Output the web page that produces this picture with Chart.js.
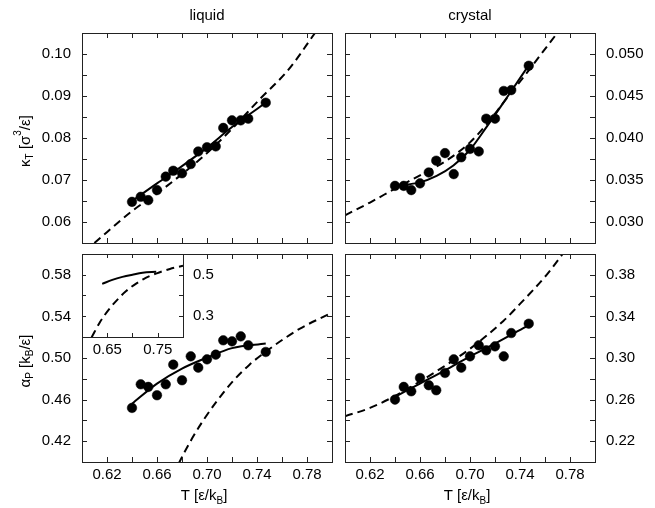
<!DOCTYPE html>
<html><head><meta charset="utf-8">
<script src="https://cdn.jsdelivr.net/npm/chart.js@4.4.1/dist/chart.umd.min.js"></script>
<style>
html,body{margin:0;padding:0;background:#fff;}
#fig{position:relative;width:655px;height:508px;overflow:hidden;background:#fff;}
canvas{position:absolute;}
</style></head><body>
<div id="fig">
<canvas id="tl" width="340" height="265" style="left:0px;top:0px"></canvas>
<canvas id="tr" width="318" height="265" style="left:337px;top:0px"></canvas>
<canvas id="bl" width="340" height="276" style="left:0px;top:232px"></canvas>
<canvas id="br" width="318" height="276" style="left:337px;top:232px"></canvas>
<canvas id="inset" width="160" height="124" style="left:60px;top:234px"></canvas>
</div>
<script>
// ---------- data ----------
const T = [0.640,0.647,0.653,0.660,0.667,0.673,0.680,0.687,0.693,0.700,0.707,0.713,0.720,0.727,0.733,0.747];
const kappaLiquid  = [0.0648,0.0660,0.0652,0.0676,0.0708,0.0722,0.0716,0.0738,0.0768,0.0778,0.0780,0.0824,0.0842,0.0842,0.0846,0.0884];
const kappaCrystal = [0.0343,0.0343,0.0338,0.0346,0.0359,0.0373,0.0382,0.0357,0.0377,0.0387,0.0384,0.0423,0.0423,0.0456,0.0457,0.0486];
const alphaLiquid  = [0.452,0.4747,0.4722,0.4642,0.4747,0.4936,0.4786,0.5016,0.4907,0.4987,0.5032,0.517,0.516,0.5208,0.5122,0.5058];
const alphaCrystal = [0.260,0.2722,0.268,0.2808,0.2738,0.269,0.2856,0.2987,0.2907,0.3016,0.3122,0.3074,0.3112,0.3016,0.324,0.333];

// fitted (solid) curves
const kLiqFitT = [0.640,0.660,0.680,0.700,0.720,0.747];
const kLiqFit  = [0.0650,0.0692,0.0733,0.0777,0.0826,0.0884];
const kCryFitT = [0.6403,0.660,0.6733,0.6867,0.700,0.7133,0.7267,0.7467];
const kCryFit  = [0.03432,0.03472,0.03548,0.03672,0.0386,0.04132,0.0442,0.0486];
const aLiqFitT = [0.640,0.660,0.680,0.700,0.720,0.747];
const aLiqFit  = [0.456,0.4754,0.4898,0.5004,0.5095,0.5140];
const aCryFitT = [0.640,0.660,0.680,0.700,0.720,0.7467];
const aCryFit  = [0.2626,0.2754,0.2882,0.3016,0.3138,0.3314];

// theory (dashed) curves
const kLiqThT = [0.6099,0.640,0.660,0.680,0.700,0.720,0.7424,0.7650,0.7864];
const kLiqTh  = [0.0550,0.0626,0.0668,0.0714,0.0764,0.0822,0.0893,0.0962,0.1050];
const kCryThT = [0.600,0.620,0.6403,0.660,0.680,0.700,0.7133,0.7267,0.7467,0.7699];
const kCryTh  = [0.0308,0.03232,0.0340,0.03556,0.0372,0.03948,0.04164,0.0442,0.0480,0.05252];
const aLiqThT = [0.619,0.636,0.655,0.678,0.688,0.697,0.708,0.721,0.734,0.748,0.761,0.774,0.800];
const aLiqTh  = [0.198,0.2734,0.338,0.400,0.4225,0.440,0.4587,0.478,0.4936,0.5069,0.518,0.528,0.5436];
const aCryThT = [0.600,0.620,0.640,0.660,0.680,0.700,0.7267,0.740,0.7613,0.7741];
const aCryTh  = [0.244,0.252,0.2635,0.2775,0.2925,0.3089,0.3356,0.352,0.380,0.400];

// ticks
const xTicks = [0.60,0.62,0.64,0.66,0.68,0.70,0.72,0.74,0.76,0.78,0.80];
const xTickLabels = ['','0.62','','0.66','','0.70','','0.74','','0.78',''];
const kLiqTicks = [0.055,0.060,0.065,0.070,0.075,0.080,0.085,0.090,0.095,0.100,0.105];
const kLiqTickLabels = ['','0.06','','0.07','','0.08','','0.09','','0.10',''];
const kCryTicks = [0.0275,0.030,0.0325,0.035,0.0375,0.040,0.0425,0.045,0.0475,0.050,0.0525];
const kCryTickLabels = ['','0.030','','0.035','','0.040','','0.045','','0.050',''];
const aLiqTicks = [0.40,0.42,0.44,0.46,0.48,0.50,0.52,0.54,0.56,0.58,0.60];
const aLiqTickLabels = ['','0.42','','0.46','','0.50','','0.54','','0.58',''];
const aCryTicks = [0.20,0.22,0.24,0.26,0.28,0.30,0.32,0.34,0.36,0.38,0.40];
const aCryTickLabels = ['','0.22','','0.26','','0.30','','0.34','','0.38',''];
const insetXTicks = [0.65,0.70,0.75];
const insetXTickLabels = ['0.65','','0.75'];
const insetYTicks = [0.3,0.4,0.5];
const insetYTickLabels = ['0.3','','0.5'];

// ---------- rendering ----------
const FONT = '"Liberation Sans", Arial, Helvetica, sans-serif';
Chart.defaults.font.family = FONT;
Chart.defaults.font.size = 15;
Chart.defaults.color = '#000';

function pts(xs, ys){
  return {data: xs.map((x,i)=>({x:x,y:ys[i]})), showLine:false, pointRadius:4.8,
    pointBackgroundColor:'#000', pointBorderColor:'#000', pointBorderWidth:0.5, order:0};
}
function curve(xs, ys, dashed){
  return {data: xs.map((x,i)=>({x:x,y:ys[i]})), showLine:true, pointRadius:0,
    borderColor:'#000', borderWidth:2, borderDash: dashed ? [8,5] : [],
    cubicInterpolationMode:'monotone', fill:false, order:1};
}

function drawRich(ctx, segs, x, y, rot){
  ctx.save();
  ctx.translate(x, y);
  ctx.rotate(rot);
  ctx.textBaseline = 'alphabetic';
  ctx.textAlign = 'left';
  ctx.fillStyle = '#000';
  const fnt = s => (s.s ? '10px ' : '15px ') + FONT;
  let total = 0;
  const ws = segs.map(s => { ctx.font = fnt(s); const w = ctx.measureText(s.t).width; total += w; return w; });
  let cx = -total/2;
  segs.forEach((s,i) => {
    ctx.font = fnt(s);
    const dy = s.s === 'sub' ? 3.5 : (s.s === 'sup' ? -9 : 0);
    ctx.fillText(s.t, cx, dy);
    cx += ws[i];
  });
  ctx.restore();
}

function decor(cfg){
  return {
    id: 'decor',
    beforeDraw(chart){
      if (cfg.fill){
        const a = chart.chartArea, ctx = chart.ctx;
        ctx.save(); ctx.fillStyle = '#fff';
        ctx.fillRect(a.left, a.top, a.right-a.left, a.bottom-a.top);
        ctx.restore();
      }
    },
    afterDraw(chart){
      const ctx = chart.ctx, a = chart.chartArea, sx = chart.scales.x, sy = chart.scales.y;
      const L = cfg.tickLen || 5;
      ctx.save();
      ctx.strokeStyle = '#222';
      ctx.lineWidth = 1;
      ctx.beginPath();
      sx.ticks.forEach(t => {
        const p = Math.round(sx.getPixelForValue(t.value)) + 0.5;
        ctx.moveTo(p, a.top); ctx.lineTo(p, a.top + L);
        ctx.moveTo(p, a.bottom); ctx.lineTo(p, a.bottom - L);
      });
      sy.ticks.forEach(t => {
        const p = Math.round(sy.getPixelForValue(t.value)) + 0.5;
        ctx.moveTo(a.left, p); ctx.lineTo(a.left + L, p);
        ctx.moveTo(a.right, p); ctx.lineTo(a.right - L, p);
      });
      ctx.stroke();
      ctx.strokeRect(Math.round(a.left)+0.5, Math.round(a.top)+0.5,
                     Math.round(a.right-a.left), Math.round(a.bottom-a.top));
      ctx.restore();
      const cxm = (a.left + a.right)/2, cym = (a.top + a.bottom)/2;
      if (cfg.title){
        ctx.save();
        ctx.font = '15px ' + FONT; ctx.fillStyle = '#000';
        ctx.textAlign = 'center'; ctx.textBaseline = 'alphabetic';
        ctx.fillText(cfg.title, cxm, a.top - 13);
        ctx.restore();
      }
      if (cfg.yTitle) drawRich(ctx, cfg.yTitle, a.left - 52.5, cym + 3, -Math.PI/2);
      if (cfg.xTitle) drawRich(ctx, cfg.xTitle, cxm - 3, a.bottom + 38, 0);
    }
  };
}

function panel(id, o){
  new Chart(document.getElementById(id), {
    type: 'scatter',
    data: {datasets: o.datasets},
    options: {
      responsive: false, animation: false, devicePixelRatio: 1, events: [],
      layout: {padding: o.padding},
      plugins: {legend:{display:false}, tooltip:{enabled:false}, title:{display:false}},
      scales: {
        x: {type:'linear', position:'bottom', min:o.xMin, max:o.xMax,
          afterBuildTicks: s => { s.ticks = o.xTicks.map(v => ({value:v})); },
          afterFit: s => { s.height = o.xHeight; },
          ticks: {display:o.showX, padding:o.xPad, autoSkip:false, maxRotation:0, minRotation:0,
                  color:'#000', callback:(v,i) => o.xLabels[i]},
          grid: {display:false, drawTicks:false}, border:{display:false}},
        y: {type:'linear', position:o.yPos, min:o.yMin, max:o.yMax,
          afterBuildTicks: s => { s.ticks = o.yTicks.map(v => ({value:v})); },
          afterFit: s => { s.width = o.yWidth; },
          ticks: {display:true, padding:o.yPad, autoSkip:false, color:'#000',
                  callback:(v,i) => o.yLabels[i]},
          grid: {display:false, drawTicks:false}, border:{display:false}}
      }
    },
    plugins: [decor(o.decor)]
  });
}

const xTitle = [{t:'T [ε/k'},{t:'B',s:'sub'},{t:']'}];

// plot areas: left column x 82..332, right column x 345..595; top row y 33..243, bottom row y 254..462
panel('tl', {
  datasets: [pts(T, kappaLiquid), curve(kLiqFitT, kLiqFit, false), curve(kLiqThT, kLiqTh, true)],
  padding: {top:33, right:8, left:0, bottom:0},
  xMin:0.60, xMax:0.80, xTicks:xTicks, xLabels:xTickLabels, showX:false, xHeight:22, xPad:4,
  yMin:0.055, yMax:0.105, yTicks:kLiqTicks, yLabels:kLiqTickLabels, yPos:'left', yWidth:82, yPad:11,
  decor: {title:'liquid', yTitle:[{t:'κ'},{t:'T',s:'sub'},{t:' [σ'},{t:'3',s:'sup'},{t:'/ε]'}]}
});
panel('tr', {
  datasets: [pts(T, kappaCrystal), curve(kCryFitT, kCryFit, false), curve(kCryThT, kCryTh, true)],
  padding: {top:33, left:8, right:0, bottom:0},
  xMin:0.60, xMax:0.80, xTicks:xTicks, xLabels:xTickLabels, showX:false, xHeight:22, xPad:4,
  yMin:0.0275, yMax:0.0525, yTicks:kCryTicks, yLabels:kCryTickLabels, yPos:'right', yWidth:60, yPad:11,
  decor: {title:'crystal'}
});
panel('bl', {
  datasets: [pts(T, alphaLiquid), curve(aLiqFitT, aLiqFit, false), curve(aLiqThT, aLiqTh, true)],
  padding: {top:22, right:8, left:0, bottom:0},
  xMin:0.60, xMax:0.80, xTicks:xTicks, xLabels:xTickLabels, showX:true, xHeight:46, xPad:4,
  yMin:0.40, yMax:0.60, yTicks:aLiqTicks, yLabels:aLiqTickLabels, yPos:'left', yWidth:82, yPad:11,
  decor: {yTitle:[{t:'α'},{t:'P',s:'sub'},{t:' [k'},{t:'B',s:'sub'},{t:'/ε]'}], xTitle:xTitle}
});
panel('br', {
  datasets: [pts(T, alphaCrystal), curve(aCryFitT, aCryFit, false), curve(aCryThT, aCryTh, true)],
  padding: {top:22, left:8, right:0, bottom:0},
  xMin:0.60, xMax:0.80, xTicks:xTicks, xLabels:xTickLabels, showX:true, xHeight:46, xPad:4,
  yMin:0.20, yMax:0.40, yTicks:aCryTicks, yLabels:aCryTickLabels, yPos:'right', yWidth:60, yPad:11,
  decor: {xTitle:xTitle}
});
panel('inset', {
  datasets: [curve(aLiqFitT, aLiqFit, false), curve(aLiqThT, aLiqTh, true)],
  padding: {top:20, left:22, right:0, bottom:0},
  xMin:0.60, xMax:0.80, xTicks:insetXTicks, xLabels:insetXTickLabels, showX:true, xHeight:21, xPad:4,
  yMin:0.2, yMax:0.6, yTicks:insetYTicks, yLabels:insetYTickLabels, yPos:'right', yWidth:37, yPad:10,
  decor: {fill:true, tickLen:4}
});
</script>
</body></html>
